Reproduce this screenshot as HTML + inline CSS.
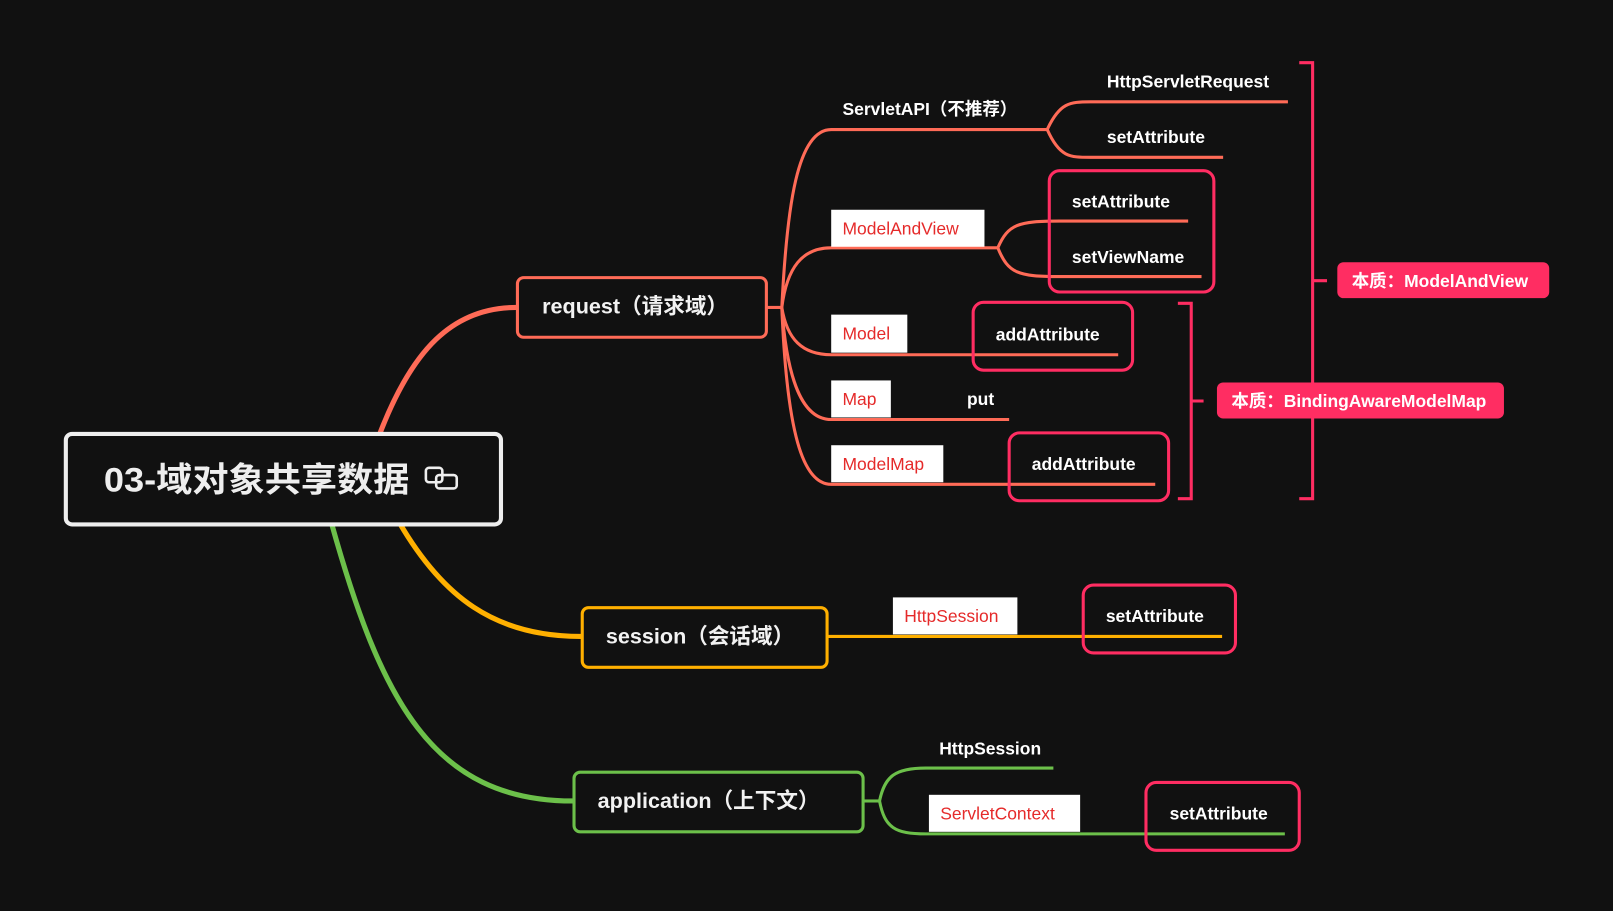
<!DOCTYPE html>
<html><head><meta charset="utf-8"><style>
html,body{margin:0;padding:0;background:#111111;}
svg{display:block;}
text{font-family:"Liberation Sans","Noto Sans CJK SC",sans-serif;}
.w{fill:#fff;font-weight:bold;font-size:17px;}
.r{fill:#e52a2a;font-size:17px;}
.n{font-weight:bold;fill:#f2f2f2;font-size:21px;}
</style></head><body>
<svg width="1613" height="911" viewBox="0 0 1568 886" preserveAspectRatio="none" xmlns="http://www.w3.org/2000/svg">
<rect width="1568" height="886" fill="#111"/>
<path d="M368,425 C400,340 440,299 502,299" stroke="#ff6b57" stroke-width="5" fill="none"/>
<path d="M388,508 C430,580 480,619 565,619" stroke="#ffb000" stroke-width="5" fill="none"/>
<path d="M322,508 C370,680 420,779 557,779" stroke="#6cc04a" stroke-width="5" fill="none"/>
<g stroke="#ff6b57" stroke-width="3" fill="none">
<path d="M745,299 H760"/>
<path d="M760,299 C765,200 775,126 808,126 H1018"/>
<path d="M760,299 C765,260 780,241 808,241 H970"/>
<path d="M760,299 C765,330 780,345 808,345 H1087"/>
<path d="M760,299 C765,370 780,408 808,408 H981"/>
<path d="M760,299 C765,420 780,471 808,471 H1123"/>
<path d="M1018,126 C1030,100 1040,99 1060,99 H1252"/>
<path d="M1018,126 C1030,153 1040,153 1060,153 H1189"/>
<path d="M970,241 C980,218 990,215 1030,215 H1155"/>
<path d="M970,241 C980,266 990,269 1030,269 H1168"/>
</g>
<path d="M805,619 H1188" stroke="#ffb000" stroke-width="3"/>
<g stroke="#6cc04a" stroke-width="3" fill="none">
<path d="M840,779 H855"/>
<path d="M855,779 C860,755 870,747 900,747 H1024"/>
<path d="M855,779 C860,805 870,811 900,811 H1249"/>
</g>
<rect x="64" y="422" width="423" height="88" rx="6" fill="#111" stroke="#eee" stroke-width="4"/>
<text x="101" y="478" style="font-weight:bold;font-size:33px;fill:#eee" textLength="297" lengthAdjust="spacingAndGlyphs">03-域对象共享数据</text>
<g stroke="#eee" stroke-width="2.5" fill="none">
<rect x="414" y="455" width="16" height="14" rx="3"/>
<rect x="424" y="462" width="20" height="13" rx="3"/>
</g>
<rect x="503" y="270" width="242" height="58" rx="6" fill="#111" stroke="#ff6b57" stroke-width="3"/>
<text class="n" x="527" y="305">request（请求域）</text>
<rect x="566" y="591" width="238" height="58" rx="6" fill="#111" stroke="#ffb000" stroke-width="3"/>
<text class="n" x="589" y="626">session（会话域）</text>
<rect x="558" y="751" width="281" height="58" rx="6" fill="#111" stroke="#6cc04a" stroke-width="3"/>
<text class="n" x="581" y="786">application（上下文）</text>
<g fill="#fff">
<rect x="808" y="204" width="149" height="36"/>
<rect x="808" y="306" width="74" height="37"/>
<rect x="808" y="370" width="58" height="36"/>
<rect x="808" y="433" width="109" height="36"/>
<rect x="868" y="581" width="121" height="36"/>
<rect x="903" y="773" width="147" height="36"/>
</g>
<text class="r" x="819" y="228">ModelAndView</text>
<text class="r" x="819" y="330">Model</text>
<text class="r" x="819" y="394">Map</text>
<text class="r" x="819" y="457">ModelMap</text>
<text class="r" x="879" y="605">HttpSession</text>
<text class="r" x="914" y="797">ServletContext</text>
<text class="w" x="819" y="112">ServletAPI（不推荐）</text>
<text class="w" x="1076" y="85">HttpServletRequest</text>
<text class="w" x="1076" y="139">setAttribute</text>
<text class="w" x="1042" y="202">setAttribute</text>
<text class="w" x="1042" y="256">setViewName</text>
<text class="w" x="968" y="331">addAttribute</text>
<text class="w" x="940" y="394">put</text>
<text class="w" x="1003" y="457">addAttribute</text>
<text class="w" x="1075" y="605">setAttribute</text>
<text class="w" x="913" y="734">HttpSession</text>
<text class="w" x="1137" y="797">setAttribute</text>
<g fill="none" stroke="#ff2d62" stroke-width="3">
<rect x="1020" y="166" width="160" height="118" rx="10"/>
<rect x="946" y="294" width="155" height="66" rx="10"/>
<rect x="981" y="421" width="155" height="66" rx="10"/>
<rect x="1053" y="569" width="148" height="66" rx="10"/>
<rect x="1114" y="761" width="149" height="66" rx="10"/>
<path d="M1145,295 H1158 V485 H1145 M1158,390 H1170"/>
<path d="M1263,61 H1276 V485 H1263 M1276,273 H1290"/>
</g>
<rect x="1300" y="255" width="206" height="35" rx="6" fill="#ff2d62"/>
<text class="w" x="1314" y="279">本质：ModelAndView</text>
<rect x="1183" y="372" width="279" height="35" rx="6" fill="#ff2d62"/>
<text class="w" x="1197" y="396">本质：BindingAwareModelMap</text>
</svg>
</body></html>
